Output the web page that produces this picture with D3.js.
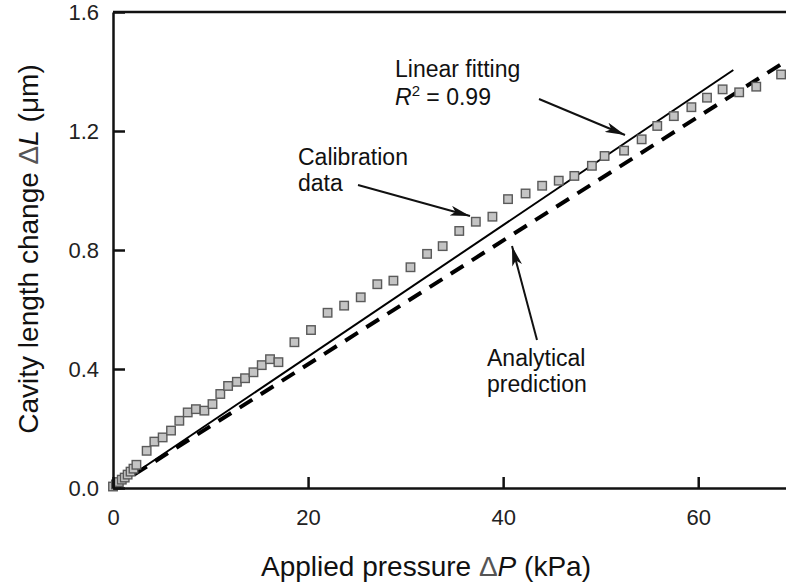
<!DOCTYPE html>
<html>
<head>
<meta charset="utf-8">
<script src="https://cdn.jsdelivr.net/npm/d3@7"></script>
<style>
  html, body { margin: 0; padding: 0; background: #fff; }
  svg { display: block; font-family: "Liberation Sans", Arial, sans-serif; }
</style>
</head>
<body>
<svg id="chart" width="786" height="584"></svg>
<script>
// ---- data ----
const pressure = [0.0, 0.3, 0.6, 0.9, 1.2, 1.5, 1.8, 2.1, 2.4,
  3.45, 4.24, 5.09, 5.95, 6.8, 7.66, 8.5, 9.37, 10.2, 11.0, 11.8, 12.7, 13.54, 14.4, 15.25, 16.1, 16.96,
  18.6, 20.3, 22.0, 23.7, 25.4, 27.1, 28.75, 30.5, 32.2, 33.8, 35.5, 37.2, 38.9,
  40.5, 42.3, 44.0, 45.7, 47.3, 49.1, 50.4, 52.4, 54.2, 55.8, 57.5, 59.3, 60.9, 62.5, 64.2, 65.95, 68.5];
const deltaL = [0.005, 0.012, 0.02, 0.028, 0.035, 0.045, 0.055, 0.065, 0.078,
  0.125, 0.156, 0.170, 0.193, 0.226, 0.254, 0.265, 0.26, 0.282, 0.316, 0.343, 0.357, 0.369, 0.389, 0.413, 0.433, 0.423,
  0.490, 0.531, 0.589, 0.613, 0.641, 0.685, 0.697, 0.742, 0.787, 0.813, 0.864, 0.895, 0.912,
  0.971, 0.99, 1.016, 1.033, 1.049, 1.083, 1.116, 1.134, 1.172, 1.217, 1.25, 1.28, 1.312, 1.34, 1.33, 1.349, 1.39];
const fitX = [0, 63.6];
const fitY = [0, 1.405];
const analyticX = [0, 69];
const analyticY = [0, 1.435];
const xTicks = [0, 20, 40, 60];
const yTicks = [0.0, 0.4, 0.8, 1.2, 1.6];

// ---- layout ----
const svg = d3.select("#chart");
const mLeft = 113, mRight = 786, mTop = 12, mBottom = 488;
const x = d3.scaleLinear().domain([0, 69]).range([mLeft, mRight]);
const y = d3.scaleLinear().domain([0, 1.6]).range([mBottom, mTop]);

// arrow marker
svg.append("defs").append("marker")
  .attr("id", "arrow").attr("viewBox", "0 0 20 10")
  .attr("refX", 20).attr("refY", 5)
  .attr("markerWidth", 20).attr("markerHeight", 10)
  .attr("markerUnits", "userSpaceOnUse")
  .attr("orient", "auto")
  .append("path").attr("d", "M0,0 L20,5 L0,10 L5,5 Z").attr("fill", "#111");

// analytical (dashed)
const line = d3.line().x(d => x(d[0])).y(d => y(d[1]));
svg.append("path")
  .datum(d3.zip(analyticX, analyticY))
  .attr("d", line)
  .attr("fill", "none").attr("stroke", "#000")
  .attr("stroke-width", 4).attr("stroke-dasharray", "15,10");

// linear fit (solid)
svg.append("path")
  .datum(d3.zip(fitX, fitY))
  .attr("d", line)
  .attr("fill", "none").attr("stroke", "#000").attr("stroke-width", 2);

// data points
const s = 8.5;
svg.append("g").selectAll("rect")
  .data(d3.zip(pressure, deltaL))
  .join("rect")
  .attr("x", d => x(d[0]) - s / 2)
  .attr("y", d => y(d[1]) - s / 2)
  .attr("width", s).attr("height", s)
  .attr("fill", "#c4c4c4").attr("stroke", "#5a5a5a").attr("stroke-width", 1.4);

// axes
const xAxis = d3.axisBottom(x).tickValues(xTicks).tickFormat(d3.format("d"))
  .tickSizeInner(-11).tickSizeOuter(0).tickPadding(21);
const gx = svg.append("g").attr("transform", `translate(0,${mBottom})`).call(xAxis);
const yAxis = d3.axisLeft(y).tickValues(yTicks).tickFormat(d3.format(".1f"))
  .tickSizeInner(-12).tickSizeOuter(0).tickPadding(14);
const gy = svg.append("g").attr("transform", `translate(${mLeft},0)`).call(yAxis);
[gx, gy].forEach(g => {
  g.select(".domain").attr("stroke", "#111").attr("stroke-width", 2.5);
  g.selectAll(".tick line").attr("stroke", "#111").attr("stroke-width", 2.5);
  g.selectAll(".tick text").attr("font-size", 22).attr("fill", "#222")
    .attr("font-family", "Liberation Sans, Arial, sans-serif");
});
gy.selectAll(".tick text").attr("dy", "0.36em");
// top frame
svg.append("line").attr("x1", mLeft).attr("x2", mRight).attr("y1", mTop).attr("y2", mTop)
  .attr("stroke", "#111").attr("stroke-width", 2.5);

// axis titles
const xt = svg.append("text").attr("x", 426).attr("y", 576).attr("text-anchor", "middle")
  .attr("font-size", 28).attr("fill", "#111");
xt.append("tspan").text("Applied pressure ");
xt.append("tspan").text("\u0394").attr("fill", "#555");
xt.append("tspan").text("P").attr("font-style", "italic");
xt.append("tspan").text(" (kPa)");

const yt = svg.append("text").attr("transform", "translate(38,249) rotate(-90)")
  .attr("text-anchor", "middle").attr("font-size", 28).attr("fill", "#111");
yt.append("tspan").text("Cavity length change ");
yt.append("tspan").text("\u0394").attr("fill", "#555");
yt.append("tspan").text("L").attr("font-style", "italic");
yt.append("tspan").text(" (\u03bcm)");

// annotations
const ann = svg.append("g").attr("font-size", 23).attr("fill", "#111");
ann.append("text").attr("x", 298).attr("y", 165).text("Calibration");
ann.append("text").attr("x", 298).attr("y", 191).text("data");
const lf = ann.append("text").attr("x", 395).attr("y", 77);
lf.text("Linear fitting");
const r2 = ann.append("text").attr("x", 395).attr("y", 105);
r2.append("tspan").text("R").attr("font-style", "italic");
r2.append("tspan").text("2").attr("font-size", 15).attr("dy", -9);
r2.append("tspan").text(" = 0.99").attr("dy", 9);
ann.append("text").attr("x", 487).attr("y", 366).text("Analytical");
ann.append("text").attr("x", 487).attr("y", 392).text("prediction");

const arrows = [
  [358, 185, 470, 216],
  [539, 99, 625, 135],
  [537, 340, 512, 246]
];
svg.append("g").selectAll("line").data(arrows).join("line")
  .attr("x1", d => d[0]).attr("y1", d => d[1]).attr("x2", d => d[2]).attr("y2", d => d[3])
  .attr("stroke", "#111").attr("stroke-width", 2).attr("marker-end", "url(#arrow)");
</script>
</body>
</html>
